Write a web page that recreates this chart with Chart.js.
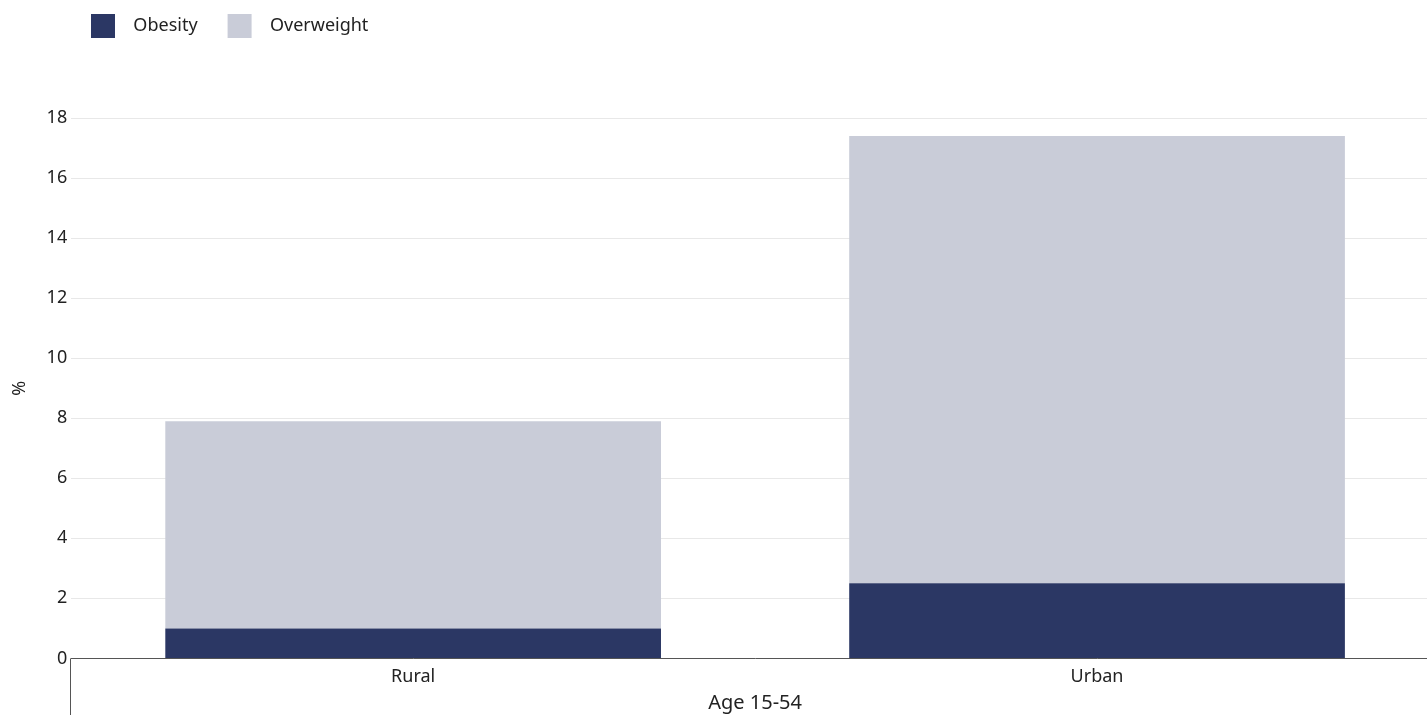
<!DOCTYPE html>
<html>
<head>
<meta charset="utf-8">
<script src="https://cdn.jsdelivr.net/npm/chart.js@4.4.1/dist/chart.umd.min.js"></script>
<style>
  html, body { margin: 0; padding: 0; background: #fff; overflow: hidden; }
  #wrap { width: 1439px; height: 715px; }
</style>
</head>
<body>
<div id="wrap"><canvas id="myChart"></canvas></div>
<script>
const categories = ['Rural', 'Urban'];
const obesity = [1.0, 2.5];
const overweight = [6.9, 14.9];
const yTicks = [0, 2, 4, 6, 8, 10, 12, 14, 16, 18];

// push the chart area down below the legend, and nudge the legend itself
const legendGap = {
  id: 'legendGap',
  beforeInit(chart) {
    const fit = chart.legend.fit;
    chart.legend.fit = function () {
      fit.bind(chart.legend)();
      this.height += 54;
    };
  },
  afterLayout(chart) {
    chart.legend.left += 56;
    chart.legend.top -= 16;
  }
};

// the little vertical line under the left end of the x axis
const leftStub = {
  id: 'leftStub',
  afterDraw(chart) {
    const c = chart.ctx, a = chart.chartArea;
    c.save();
    c.strokeStyle = '#555';
    c.lineWidth = 1;
    c.beginPath();
    c.moveTo(Math.round(a.left) - 0.5, a.bottom);
    c.lineTo(Math.round(a.left) - 0.5, chart.height);
    c.stroke();
    c.restore();
  }
};

Chart.defaults.font.family = '"Noto Sans", "Open Sans", sans-serif';
Chart.defaults.font.size = 18;
Chart.defaults.color = '#222';

const ctx = document.getElementById('myChart');
new Chart(ctx, {
  type: 'bar',
  data: {
    labels: categories,
    datasets: [{
      label: 'Obesity',
      data: obesity,
      backgroundColor: '#2b3764',
      borderWidth: 0,
      barPercentage: 0.8,
      categoryPercentage: 0.906
    }, {
      label: 'Overweight',
      data: overweight,
      backgroundColor: '#c9ccd8',
      borderWidth: 0,
      barPercentage: 0.8,
      categoryPercentage: 0.906
    }]
  },
  options: {
    responsive: true,
    maintainAspectRatio: false,
    animation: false,
    layout: { padding: { left: 5, right: 0, top: 0, bottom: 0 } },
    plugins: {
      tooltip: { enabled: false },
      legend: {
        position: 'top',
        align: 'start',
        labels: {
          boxWidth: 24,
          boxHeight: 24,
          padding: 30,
          font: { size: 18 },
          generateLabels(chart) {
            const items = Chart.defaults.plugins.legend.labels.generateLabels(chart);
            items.forEach(it => { it.text = '  ' + it.text; it.lineWidth = 0; });
            return items;
          }
        }
      }
    },
    scales: {
      x: {
        stacked: true,
        grid: { display: false },
        border: { display: true, color: '#555', width: 1 },
        ticks: { padding: 0 },
        title: { display: true, text: 'Age 15-54', font: { size: 20 }, padding: { top: 3, bottom: 0 } }
      },
      y: {
        stacked: true,
        min: 0,
        max: 18,
        afterBuildTicks(axis) { axis.ticks = yTicks.map(v => ({ value: v })); },
        grid: { color: '#e8e8e8', drawTicks: false },
        border: { display: false },
        ticks: { padding: 4 },
        title: { display: true, text: '%', padding: { bottom: 12 } }
      }
    }
  },
  plugins: [legendGap, leftStub]
});
</script>
</body>
</html>
